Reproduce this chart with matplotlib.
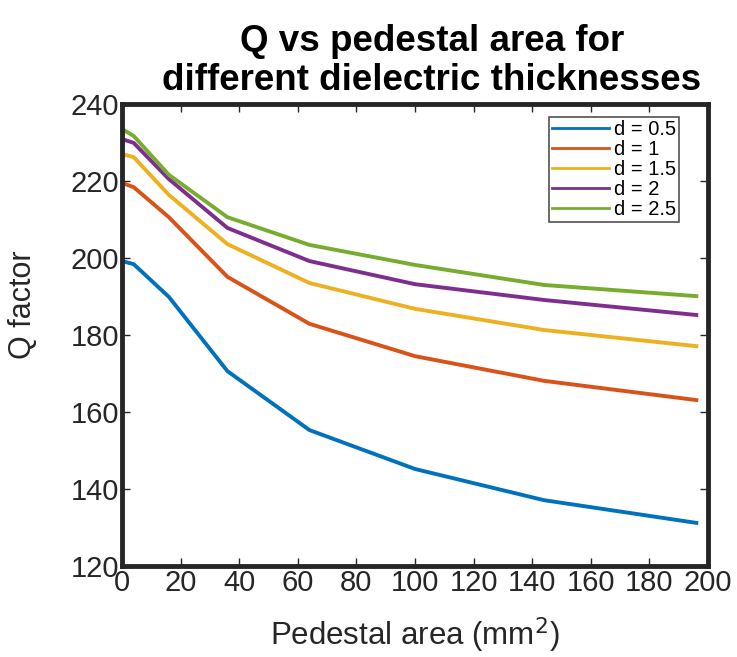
import numpy as np
from matplotlib import pyplot as plt

plt.rcParams['font.family'] = ['Liberation Sans', 'DejaVu Sans']

# pedestal area (mm^2) and Q factor per dielectric thickness
area = np.array([0, 4, 16, 36, 64, 100, 144, 196])
q_05 = [199.2, 198.4, 189.9, 170.6, 155.3, 145.2, 137.1, 131.2]
q_10 = [219.5, 218.4, 210.6, 195.1, 182.9, 174.5, 168.1, 163.1]
q_15 = [227.0, 226.2, 216.4, 203.6, 193.5, 186.8, 181.3, 177.1]
q_20 = [230.9, 229.9, 220.5, 207.8, 199.2, 193.2, 189.1, 185.2]
q_25 = [233.5, 231.7, 221.6, 210.6, 203.4, 198.2, 193.0, 190.1]
labels = ['d = 0.5', 'd = 1', 'd = 1.5', 'd = 2', 'd = 2.5']
colors = ['#0072BD', '#D95319', '#EDB120', '#7E2F8E', '#77AC30']

fig = plt.figure(figsize=(7.37, 6.57), dpi=100)
ax = fig.add_axes([0.1655, 0.1385, 0.7952, 0.7032])

for q, lab, col in zip([q_05, q_10, q_15, q_20, q_25], labels, colors):
    ax.plot(area, q, color=col, lw=2.8, label=lab)

ax.set_xlim(0, 200)
ax.set_ylim(120, 240)
ax.set_xticks(np.arange(0, 201, 20))
ax.set_yticks(np.arange(120, 241, 20))
for s in ax.spines.values():
    s.set_linewidth(3.5)
    s.set_color('#262626')
ax.tick_params(direction='in', top=True, right=True, length=6, width=1,
               labelsize=21, colors='#262626', pad=2)

ax.set_xlabel('Pedestal area (mm$^2$)', fontsize=22.5, color='#262626', va='top')
ax.xaxis.set_label_coords(0.5, -0.108)
ax.set_ylabel('Q factor', fontsize=22, color='#262626')
ax.yaxis.set_label_coords(-0.143, 0.565)
ax.set_title('Q vs pedestal area for\ndifferent dielectric thicknesses',
             fontsize=26.5, fontweight='bold', x=0.529, pad=10, linespacing=1.15)

leg = ax.legend(loc='upper right', bbox_to_anchor=(0.9505, 0.972), fontsize=14.5,
                frameon=True, fancybox=False, edgecolor='#262626',
                handlelength=2.8, handletextpad=0.25, labelspacing=0.05,
                borderpad=0.15, borderaxespad=0)
leg.get_frame().set_linewidth(1.2)
for h in leg.get_lines():
    h.set_linewidth(2)

fig.savefig('out.png', dpi=100)
